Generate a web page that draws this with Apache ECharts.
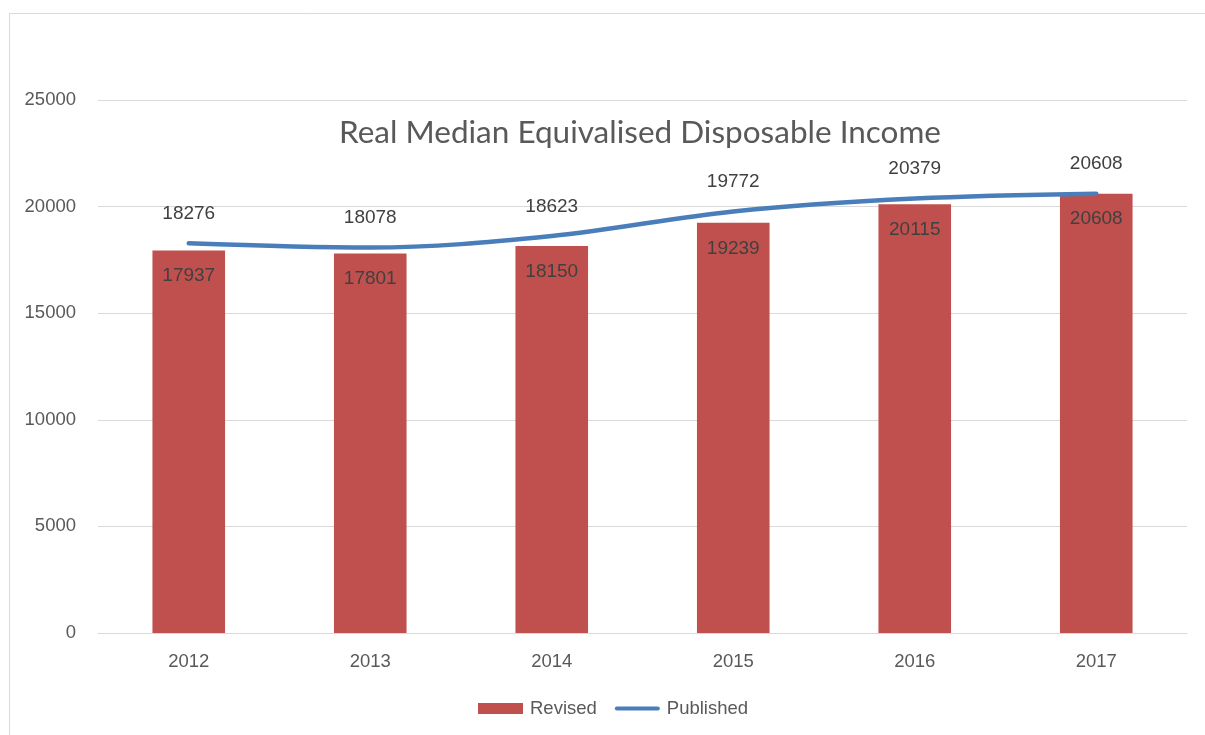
<!DOCTYPE html>
<html>
<head>
<meta charset="utf-8">
<script src="https://cdn.jsdelivr.net/npm/echarts@6/dist/echarts.min.js"></script>
<style>
  html, body { margin: 0; padding: 0; background: #fff; }
  #chart { width: 1205px; height: 735px; }
</style>
</head>
<body>
<div id="chart"></div>
<script>
// Income series, by year
const years = ['2012', '2013', '2014', '2015', '2016', '2017'];
const revised = [17937, 17801, 18150, 19239, 20115, 20608];
const published = [18276, 18078, 18623, 19772, 20379, 20608];

const textColor = '#404040';
const axisColor = '#595959';
const lineBlue = '#4A7EBB';

const chart = echarts.init(document.getElementById('chart'));
chart.setOption({
  animation: false,
  backgroundColor: '#ffffff',
  graphic: [{
    type: 'rect',
    left: 7, top: 11,
    shape: { width: 1200, height: 740 },
    style: { fill: 'none', stroke: '#d9d9d9', lineWidth: 1 },
    silent: true
  }],
  title: {
    text: 'Real Median Equivalised Disposable Income',
    left: 635, top: 112, textAlign: 'center',
    textStyle: { fontFamily: 'Lato', fontSize: 31.5, fontWeight: 'normal', color: '#595959' }
  },
  legend: {
    bottom: 12, left: 473,
    itemGap: 18,
    itemWidth: 45, itemHeight: 11,
    textStyle: { fontFamily: 'Liberation Sans', fontSize: 18.5, color: axisColor, padding: [0, 0, 0, 2] },
    data: [
      { name: 'Revised', icon: 'rect' },
      {
        name: 'Published',
        icon: 'path://M2,0 L43,0 A2,2 0 0 1 43,4 L2,4 A2,2 0 0 1 2,0 Z',
        itemStyle: { color: lineBlue, opacity: 1 }
      }
    ]
  },
  grid: { left: 98, right: 18, top: 100, bottom: 102, containLabel: false },
  xAxis: {
    type: 'category',
    data: years,
    axisLine: { lineStyle: { color: '#d9d9d9', width: 1 } },
    axisTick: { show: false },
    axisLabel: { fontFamily: 'Liberation Sans', fontSize: 18.5, color: axisColor, margin: 19 }
  },
  yAxis: {
    type: 'value',
    min: 0, max: 25000, interval: 5000,
    axisLine: { show: false },
    axisTick: { show: false },
    splitLine: { lineStyle: { color: '#d9d9d9', width: 1 } },
    axisLabel: {
      fontFamily: 'Liberation Sans', fontSize: 18.5, color: axisColor, margin: 22,
      formatter: v => String(v)
    }
  },
  series: [
    {
      name: 'Revised',
      type: 'bar',
      data: revised,
      barWidth: '40%',
      itemStyle: { color: '#C0504D' },
      label: {
        show: true, position: 'insideTop', distance: 16,
        fontFamily: 'Liberation Sans', fontSize: 19, color: textColor
      }
    },
    {
      name: 'Published',
      type: 'line',
      data: published,
      smooth: 0.35,
      symbol: 'circle',
      symbolSize: 2,
      showSymbol: true,
      lineStyle: { color: lineBlue, width: 4.5, cap: 'round' },
      itemStyle: { color: lineBlue },
      label: {
        show: true, position: 'top', distance: 19,
        fontFamily: 'Liberation Sans', fontSize: 19, color: textColor
      },
      z: 3
    }
  ]
});
</script>
</body>
</html>
